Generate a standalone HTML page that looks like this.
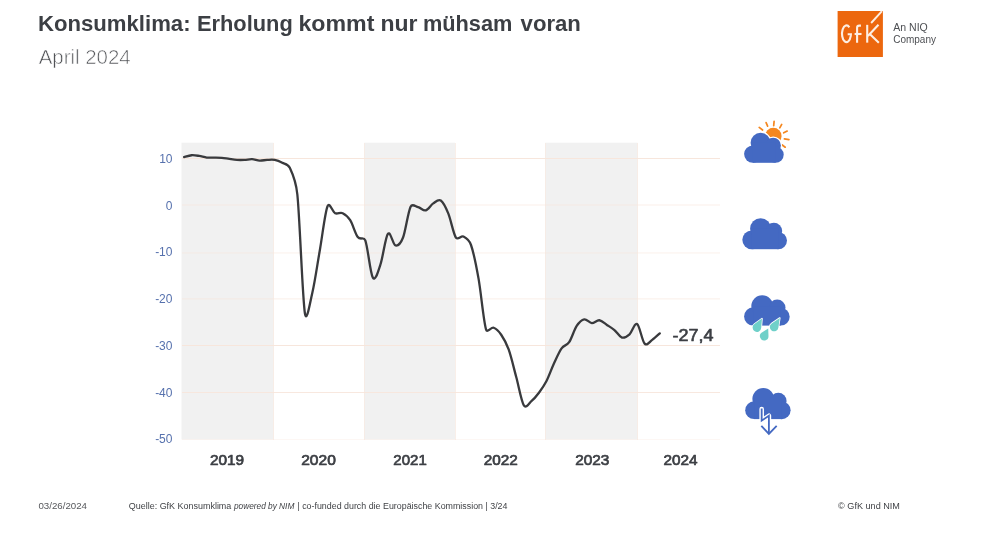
<!DOCTYPE html>
<html><head><meta charset="utf-8"><title>Konsumklima</title>
<style>
html,body{margin:0;padding:0;background:#fff;}
body{width:995px;height:540px;overflow:hidden;font-family:"Liberation Sans",sans-serif;}
svg{display:block;position:absolute;left:0;top:0;}
text{font-family:"Liberation Sans",sans-serif;}
</style></head><body>
<svg width="995" height="540" viewBox="0 0 995 540">
<rect width="995" height="540" fill="#ffffff"/>
<g id="bands"><rect x="181.5" y="142.7" width="92.0" height="296.8" fill="#f1f1f1"/><rect x="364.3" y="142.7" width="90.9" height="296.8" fill="#f1f1f1"/><rect x="545.3" y="142.7" width="92.2" height="296.8" fill="#f1f1f1"/></g>
<g id="grid" shape-rendering="crispEdges"><rect x="181.5" y="158" width="538.5" height="1" fill="#f7e6dc" opacity="1.00"/>
<rect x="181.5" y="204" width="538.5" height="1" fill="#f7e6dc" opacity="0.30"/>
<rect x="181.5" y="205" width="538.5" height="1" fill="#f7e6dc" opacity="0.30"/>
<rect x="181.5" y="252" width="538.5" height="1" fill="#f7e6dc" opacity="0.30"/>
<rect x="181.5" y="253" width="538.5" height="1" fill="#f7e6dc" opacity="0.25"/>
<rect x="181.5" y="298" width="538.5" height="1" fill="#f7e6dc" opacity="0.40"/>
<rect x="181.5" y="299" width="538.5" height="1" fill="#f7e6dc" opacity="0.25"/>
<rect x="181.5" y="345" width="538.5" height="1" fill="#f7e6dc" opacity="1.00"/>
<rect x="181.5" y="392" width="538.5" height="1" fill="#f7e6dc" opacity="0.90"/>
<rect x="181.5" y="439" width="538.5" height="1" fill="#f7e6dc" opacity="0.30"/>
<rect x="273" y="142.7" width="1" height="296.8" fill="#f7e6dc" opacity="0.6"/>
<rect x="364" y="142.7" width="1" height="296.8" fill="#f7e6dc" opacity="0.6"/>
<rect x="455" y="142.7" width="1" height="296.8" fill="#f7e6dc" opacity="0.6"/>
<rect x="545" y="142.7" width="1" height="296.8" fill="#f7e6dc" opacity="0.6"/>
<rect x="637" y="142.7" width="1" height="296.8" fill="#f7e6dc" opacity="0.6"/></g>
<path id="curve" d="M184.10,157.10 C185.36,156.79 189.13,155.42 191.65,155.23 C194.17,155.03 196.68,155.54 199.20,155.93 C201.72,156.32 204.23,157.29 206.75,157.56 C209.27,157.84 211.78,157.53 214.30,157.56 C216.82,157.60 219.33,157.56 221.85,157.80 C224.37,158.03 226.88,158.62 229.40,158.97 C231.92,159.32 234.43,159.75 236.95,159.90 C239.47,160.06 241.98,160.02 244.50,159.90 C247.02,159.79 249.53,159.08 252.05,159.20 C254.57,159.32 257.08,160.49 259.60,160.60 C262.12,160.72 264.63,160.02 267.15,159.90 C269.67,159.79 272.18,159.44 274.70,159.90 C277.22,160.37 279.73,161.38 282.25,162.71 C284.77,164.03 287.84,163.72 289.80,167.85 C292.32,173.15 295.92,180.72 297.35,194.50 C299.87,218.73 302.38,296.96 304.90,313.24 C306.61,324.29 309.93,302.88 312.45,292.21 C314.97,281.53 317.48,263.53 320.00,249.19 C322.52,234.86 325.03,212.18 327.55,206.19 C329.54,201.43 332.58,212.03 335.10,213.20 C337.62,214.37 340.13,212.03 342.65,213.20 C345.17,214.37 347.68,216.24 350.20,220.21 C352.72,224.18 355.23,233.69 357.75,237.04 C360.22,240.33 363.87,236.46 365.30,240.31 C367.82,247.09 370.33,273.66 372.85,277.71 C375.37,281.76 377.94,271.77 380.40,264.62 C382.92,257.30 385.43,236.96 387.95,233.77 C390.47,230.57 392.98,244.83 395.50,245.45 C398.02,246.08 401.06,242.62 403.05,237.51 C405.57,231.04 408.08,211.72 410.60,206.65 C412.28,203.27 415.63,206.50 418.15,207.12 C420.67,207.74 423.18,211.02 425.70,210.39 C428.22,209.77 430.73,205.02 433.25,203.38 C435.77,201.74 438.28,198.86 440.80,200.57 C443.32,202.29 445.83,207.51 448.35,213.66 C450.87,219.82 453.38,233.69 455.90,237.51 C457.99,240.68 460.93,235.33 463.45,236.57 C465.97,237.82 469.09,239.67 471.00,244.99 C473.52,252.00 476.03,264.54 478.55,278.65 C481.07,292.75 483.58,321.42 486.10,329.61 C487.24,333.32 491.13,326.88 493.65,327.74 C496.17,328.59 498.68,331.09 501.20,334.75 C503.72,338.41 506.23,342.62 508.75,349.71 C511.27,356.80 513.78,368.02 516.30,377.29 C518.82,386.56 521.33,401.37 523.85,405.34 C526.16,408.99 528.88,403.24 531.40,401.13 C533.92,399.03 536.43,396.07 538.95,392.72 C541.47,389.37 543.98,385.94 546.50,381.03 C549.02,376.12 551.53,368.72 554.05,363.26 C556.57,357.81 559.08,351.81 561.60,348.31 C564.12,344.80 566.63,345.97 569.15,342.23 C571.67,338.49 574.18,329.68 576.70,325.87 C579.22,322.05 581.73,319.79 584.25,319.32 C586.77,318.85 589.28,322.90 591.80,323.06 C594.32,323.22 596.83,319.94 599.35,320.25 C601.87,320.57 604.38,323.29 606.90,324.93 C609.42,326.57 611.93,327.97 614.45,330.07 C616.97,332.18 619.48,336.85 622.00,337.55 C624.52,338.25 627.03,336.54 629.55,334.28 C632.07,332.02 634.58,322.44 637.10,324.00 C639.62,325.55 642.13,340.98 644.65,343.63 C647.17,346.28 649.68,341.60 652.20,339.89 C654.72,338.18 658.49,334.44 659.75,333.35" fill="none" stroke="#393a3d" stroke-width="2.3" stroke-linecap="round" stroke-linejoin="round"/>
<g id="texts" opacity="0.995"><text font-size="21.40" fill="#3b3e43" font-weight="700" transform="translate(37.96,31.20) scale(1.0361,1)">Konsumklima:</text>
<text font-size="21.40" fill="#3b3e43" font-weight="700" transform="translate(196.98,31.20) scale(1.0207,1)">Erholung</text>
<text font-size="21.40" fill="#3b3e43" font-weight="700" transform="translate(298.42,31.20) scale(1.0840,1)">kommt</text>
<text font-size="21.40" fill="#3b3e43" font-weight="700" transform="translate(380.53,31.20) scale(1.0745,1)">nur</text>
<text font-size="21.40" fill="#3b3e43" font-weight="700" transform="translate(422.88,31.20) scale(1.0169,1)">mühsam</text>
<text font-size="21.40" fill="#3b3e43" font-weight="700" transform="translate(520.60,31.20) scale(1.0353,1)">voran</text>
<text font-size="19.60" fill="#505256" stroke="#ffffff" stroke-width="0.60" stroke-linejoin="round" transform="translate(38.69,63.90) scale(1.0418,1)">April 2024</text>
<text font-size="12.00" fill="#5570ad" x="159.13" y="162.80">10</text>
<text font-size="12.00" fill="#5570ad" x="165.80" y="209.50">0</text>
<text font-size="12.00" fill="#5570ad" x="155.13" y="256.30">-10</text>
<text font-size="12.00" fill="#5570ad" x="155.13" y="303.00">-20</text>
<text font-size="12.00" fill="#5570ad" x="155.13" y="349.80">-30</text>
<text font-size="12.00" fill="#5570ad" x="155.13" y="396.50">-40</text>
<text font-size="12.00" fill="#5570ad" x="155.13" y="443.30">-50</text>
<text font-size="14.20" fill="#3b3e43" stroke="#3b3e43" stroke-width="0.70" stroke-linejoin="round" transform="translate(209.98,464.80) scale(1.0812,1)">2019</text>
<text font-size="14.20" fill="#3b3e43" stroke="#3b3e43" stroke-width="0.70" stroke-linejoin="round" transform="translate(301.18,464.80) scale(1.0967,1)">2020</text>
<text font-size="14.20" fill="#3b3e43" stroke="#3b3e43" stroke-width="0.70" stroke-linejoin="round" transform="translate(393.37,464.80) scale(1.0565,1)">2021</text>
<text font-size="14.20" fill="#3b3e43" stroke="#3b3e43" stroke-width="0.70" stroke-linejoin="round" transform="translate(483.68,464.80) scale(1.0781,1)">2022</text>
<text font-size="14.20" fill="#3b3e43" stroke="#3b3e43" stroke-width="0.70" stroke-linejoin="round" transform="translate(575.28,464.80) scale(1.0812,1)">2023</text>
<text font-size="14.20" fill="#3b3e43" stroke="#3b3e43" stroke-width="0.70" stroke-linejoin="round" transform="translate(663.38,464.80) scale(1.0781,1)">2024</text>
<text font-size="16.90" fill="#3b3e43" stroke="#3b3e43" stroke-width="0.60" stroke-linejoin="round" transform="translate(672.42,340.60) scale(1.0670,1)">-27,4</text>
<text font-size="8.90" fill="#55575b" transform="translate(38.40,508.60) scale(1.0926,1)">03/26/2024</text>
<text font-size="8.90" fill="#3f4145" transform="translate(128.80,508.60) scale(1.0072,1)">Quelle: GfK Konsumklima</text>
<text font-size="8.90" fill="#3f4145" font-style="italic" transform="translate(233.93,508.60) scale(0.9332,1)">powered by NIM</text>
<text font-size="8.90" fill="#3f4145" transform="translate(297.40,508.60) scale(0.9976,1)">| co-funded durch die Europäische Kommission | 3/24</text>
<text font-size="8.90" fill="#3f4145" transform="translate(838.10,508.60) scale(1.0232,1)">© GfK und NIM</text>
<text font-size="10.40" fill="#4c4e52" transform="translate(893.20,30.70) scale(1.0151,1)">An NIQ</text>
<text font-size="10.40" fill="#4c4e52" transform="translate(893.20,42.90) scale(0.9630,1)">Company</text></g>
<g id="logo"><rect x="837.6" y="11" width="45.3" height="46" fill="#ec670e"/>
<path d="M849.32,27.35 A4.45,8.35 0 1 0 850.76,35.91 L850.89,34.18 L847.67,34.18" fill="none" stroke="#fdeee2" stroke-width="2.1" stroke-linecap="butt" stroke-linejoin="miter"/>
<path d="M857.10,42.65 L857.10,27.73 Q857.10,25.61 859.22,25.61 L860.95,25.61" fill="none" stroke="#fdeee2" stroke-width="2.1" stroke-linecap="butt" stroke-linejoin="miter"/>
<path d="M854.60,33.99 L861.53,33.99" fill="none" stroke="#fdeee2" stroke-width="2.1" stroke-linecap="butt" stroke-linejoin="miter"/>
<path d="M867.21,24.84 L867.21,42.65" fill="none" stroke="#fdeee2" stroke-width="2.1" stroke-linecap="butt" stroke-linejoin="miter"/>
<path d="M867.88,35.91 L878.47,24.84" fill="none" stroke="#fdeee2" stroke-width="2.1" stroke-linecap="butt" stroke-linejoin="miter"/>
<path d="M869.23,33.60 L878.85,42.84" fill="none" stroke="#fdeee2" stroke-width="2.1" stroke-linecap="butt" stroke-linejoin="miter"/>
<path d="M871.15,23.01 L881.93,11.08" fill="none" stroke="#fdeee2" stroke-width="1.9" stroke-linecap="butt" stroke-linejoin="miter"/></g>
<g id="icons"><g stroke="#f5871f" stroke-width="1.7" stroke-linecap="round"><line x1="759.2" y1="127.4" x2="762.6" y2="130.0"/><line x1="766.1" y1="122.6" x2="767.6" y2="126.1"/><line x1="774.1" y1="121.4" x2="773.7" y2="125.6"/><line x1="781.7" y1="124.4" x2="779.8" y2="127.8"/><line x1="787.2" y1="131.1" x2="783.7" y2="132.8"/><line x1="788.9" y1="139.7" x2="784.4" y2="138.9"/><line x1="785.2" y1="147.2" x2="781.9" y2="144.8"/></g>
<circle cx="773.3" cy="136.1" r="8.3" fill="#f5871f"/>
<g fill="#fff" stroke="#fff" stroke-width="2.4"><circle cx="752.8" cy="154.1" r="8.7"/><circle cx="760.6" cy="142.8" r="10.0"/><circle cx="773.2" cy="145.4" r="7.7"/><circle cx="775.6" cy="154.7" r="8.1"/><rect x="752.8" y="142.8" width="22.8" height="20.0"/></g><g fill="#4469c2"><circle cx="752.8" cy="154.1" r="8.7"/><circle cx="760.6" cy="142.8" r="10.0"/><circle cx="773.2" cy="145.4" r="7.7"/><circle cx="775.6" cy="154.7" r="8.1"/><rect x="752.8" y="142.8" width="22.8" height="20.0"/></g>
<g fill="#4469c2"><circle cx="751.7" cy="239.8" r="9.4"/><circle cx="760.6" cy="228.7" r="10.5"/><circle cx="773.9" cy="231.1" r="8.3"/><circle cx="778.3" cy="240.6" r="8.7"/><rect x="751.7" y="228.7" width="26.6" height="20.5"/></g>
<g fill="#4469c2"><circle cx="753.3" cy="316.4" r="9.2"/><circle cx="762.2" cy="306.1" r="10.9"/><circle cx="777.2" cy="307.8" r="8.3"/><circle cx="780.8" cy="316.7" r="8.9"/><rect x="753.3" y="306.1" width="27.5" height="19.5"/></g>
<path d="M762.00,318.60 L761.18,327.97 A4.30,4.30 0 1 1 754.38,324.12 Z" fill="#6fd0c9" stroke="#fff" stroke-width="1.6" stroke-linejoin="round" paint-order="stroke"/>
<path d="M779.80,318.00 L778.35,327.64 A4.30,4.30 0 1 1 771.71,323.43 Z" fill="#6fd0c9" stroke="#fff" stroke-width="1.6" stroke-linejoin="round" paint-order="stroke"/>
<path d="M768.20,328.60 L768.50,336.03 A4.30,4.30 0 1 1 761.91,332.56 Z" fill="#6fd0c9" stroke="#fff" stroke-width="1.6" stroke-linejoin="round" paint-order="stroke"/>
<g fill="#4469c2"><circle cx="754.1" cy="410.2" r="8.9"/><circle cx="763.3" cy="398.9" r="10.9"/><circle cx="778.3" cy="401.1" r="8.3"/><circle cx="781.7" cy="410.3" r="8.9"/><rect x="754.1" y="398.9" width="27.6" height="20.2"/></g>
<path d="M761.67,409.11 L761.67,420.67 L768.89,415.78 L768.89,425.56" fill="none" stroke="#fff" stroke-width="4.6" stroke-linejoin="round" stroke-linecap="round"/>
<path d="M761.67,408.44 L761.67,420.67 L768.89,415.78 L768.89,433.11" fill="none" stroke="#4469c2" stroke-width="1.8" stroke-linejoin="miter"/>
<path d="M761.33,425.78 L768.89,433.89 L776.67,425.78" fill="none" stroke="#4469c2" stroke-width="1.8" stroke-linejoin="miter"/></g>
</svg>
</body></html>
